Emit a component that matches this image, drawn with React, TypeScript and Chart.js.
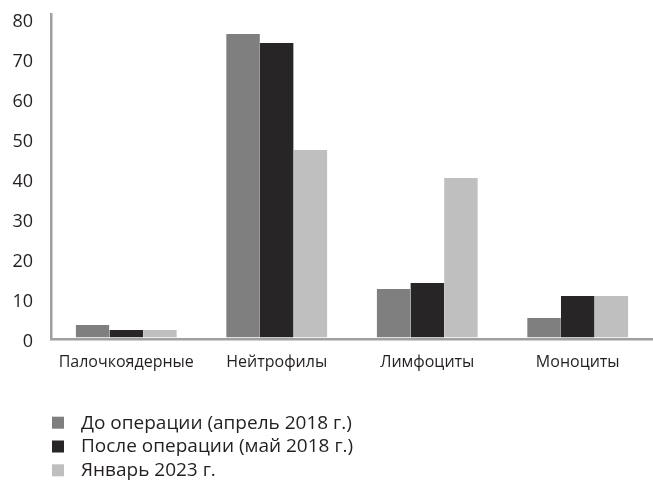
import React, { useEffect, useRef } from "react";
import { Chart, registerables } from "chart.js";

Chart.register(...registerables);

// Cell types on the x axis
const categories = ["Палочкоядерные", "Нейтрофилы", "Лимфоциты", "Моноциты"];

// Series values, %
const beforeSurgery = [3.7, 76.4, 12.7, 5.4];
const afterSurgery = [2.4, 74.2, 14.2, 10.9];
const january2023 = [2.4, 47.4, 40.4, 10.9];

const seriesLabels = [
  "До операции (апрель 2018 г.)",
  "После операции (май 2018 г.)",
  "Январь 2023 г.",
];
const seriesColors = ["#7f7f7f", "#272526", "#bfbfbf"];

const TEXT = "#231f20";
const AXIS = "#a0a0a0";
const FONT = "'Open Sans', 'Noto Sans', sans-serif";

// Vertical legend drawn under the axis labels
const stackedLegend = {
  id: "stackedLegend",
  afterDraw(chart: any) {
    const { ctx } = chart;
    ctx.save();
    ctx.font = `19px ${FONT}`;
    ctx.textBaseline = "middle";
    ctx.textAlign = "left";
    chart.data.datasets.forEach((ds: any, i: number) => {
      const top = 416.7 + i * 23.8;
      ctx.fillStyle = ds.backgroundColor;
      ctx.fillRect(52, top, 12, 12);
      ctx.fillStyle = TEXT;
      ctx.fillText(ds.label, 81, top + 6.5);
    });
    ctx.restore();
  },
};

export default function App() {
  const canvasRef = useRef<HTMLCanvasElement | null>(null);

  useEffect(() => {
    const canvas = canvasRef.current;
    if (!canvas) return;
    const series = [beforeSurgery, afterSurgery, january2023];
    const chart = new Chart(canvas, {
      type: "bar",
      data: {
        labels: categories,
        datasets: series.map((data, i) => ({
          label: seriesLabels[i],
          data,
          backgroundColor: seriesColors[i],
          borderColor: "#ffffff",
          borderWidth: { top: 0, left: 0, right: 0, bottom: 2.5 },
          borderSkipped: false,
          inflateAmount: 0,
          categoryPercentage: 0.672,
          barPercentage: 1,
        })),
      },
      options: {
        responsive: false,
        animation: false,
        devicePixelRatio: 1,
        layout: { padding: { top: 14.7, left: 0, right: 0, bottom: 0 } },
        plugins: {
          legend: { display: false },
          tooltip: { enabled: false },
        },
        scales: {
          x: {
            grid: { display: false, drawTicks: false },
            border: { color: AXIS, width: 2.5, z: 1 },
            ticks: {
              color: TEXT,
              font: { family: FONT, size: 16 },
              padding: 13,
              maxRotation: 0,
              autoSkip: false,
            },
            afterFit: (scale: any) => {
              scale.height = 140.3;
            },
          },
          y: {
            min: 0,
            max: 81.25,
            // hidden tick marks keep the labels away from the axis line
            grid: { display: false, drawTicks: true, tickLength: 18 },
            border: { color: AXIS, width: 2.5 },
            ticks: {
              stepSize: 10,
              includeBounds: false,
              color: TEXT,
              font: { family: FONT, size: 18 },
              padding: 0,
              labelOffset: 2.5,
            },
            afterFit: (scale: any) => {
              scale.width = 51;
            },
          },
        },
      },
      plugins: [stackedLegend],
    });
    return () => chart.destroy();
  }, []);

  return (
    <div style={{ position: "fixed", left: 0, top: 0, width: 653, height: 480, background: "#fff" }}>
      <canvas ref={canvasRef} width={653} height={480} />
    </div>
  );
}
